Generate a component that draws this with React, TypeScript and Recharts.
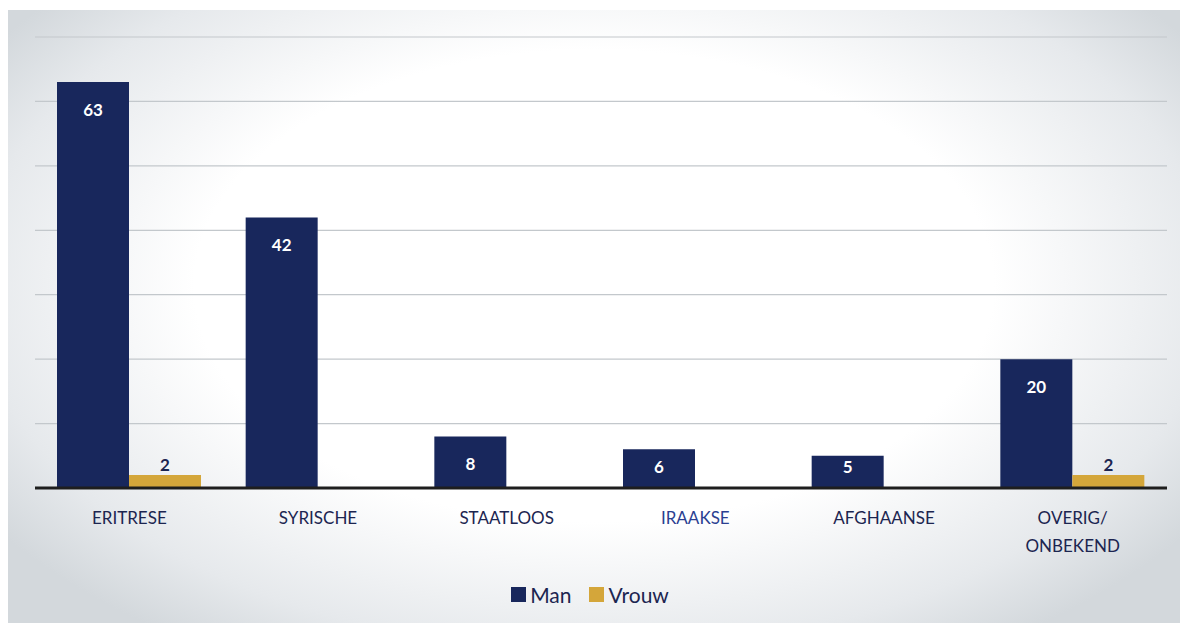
import { Bar, BarChart, CartesianGrid, LabelList, Legend, XAxis, YAxis } from "recharts";

// ── data ────────────────────────────────────────────────────────────────────

const categories = ["ERITRESE", "SYRISCHE", "STAATLOOS", "IRAAKSE", "AFGHAANSE", "OVERIG/\nONBEKEND"];
const man = [63, 42, 8, 6, 5, 20];
const vrouw = [2, 0, 0, 0, 0, 2];
const yTicks = [0, 10, 20, 30, 40, 50, 60, 70];

const NAVY = "#18275c";
const GOLD = "#d4a63a";
const FONT = "Lato, 'Open Sans', sans-serif";

const data = categories.map((name, i) => ({ name, man: man[i], vrouw: vrouw[i] }));

// ── ticks & labels ──────────────────────────────────────────────────────────

interface TickProps {
  x?: number;
  y?: number;
  payload?: { value: string };
}

function CategoryTick({ x = 0, y = 0, payload }: TickProps) {
  const lines = (payload?.value ?? "").split("\n");
  const color = payload?.value === "IRAAKSE" ? "#2b3f91" : "#1c2550";
  return (
    <text x={x} y={y + 28} textAnchor="middle" fill={color} fontSize={17} fontFamily={FONT}>
      {lines.map((l, i) => (
        <tspan key={i} x={x} dy={i === 0 ? 0 : 28}>
          {l}
        </tspan>
      ))}
    </text>
  );
}

// inside-end label, pulled down into short bars like Excel does
interface LabelProps {
  x?: number | string;
  y?: number | string;
  width?: number | string;
  height?: number | string;
  value?: number | string;
}

function ManLabel({ x = 0, y = 0, width = 0, height = 0, value }: LabelProps) {
  const bx = Number(x), by = Number(y), bw = Number(width), bh = Number(height);
  const cy = Math.min(by + 27, by + bh - 22);
  return (
    <text
      x={bx + bw / 2}
      y={cy}
      textAnchor="middle"
      dominantBaseline="central"
      fill="#ffffff"
      fontSize={17}
      fontWeight={700}
      fontFamily={FONT}
    >
      {value}
    </text>
  );
}

function LegendContent() {
  const items = [
    { label: "Man", color: NAVY },
    { label: "Vrouw", color: GOLD },
  ];
  return (
    <div style={{ display: "flex", justifyContent: "center", gap: 18, fontFamily: FONT, fontSize: 21, color: "#1c2550" }}>
      {items.map((it) => (
        <span key={it.label} style={{ display: "flex", alignItems: "center", gap: 4 }}>
          <span style={{ width: 15, height: 15, background: it.color, display: "inline-block" }} />
          {it.label}
        </span>
      ))}
    </div>
  );
}

// ── App ─────────────────────────────────────────────────────────────────────

export default function App() {
  return (
    <div style={{ position: "absolute", left: 0, top: 0, width: 1180, height: 623, background: "#fff" }}>
      <div
        style={{
          position: "absolute",
          left: 8,
          top: 10,
          width: 1172,
          height: 613,
          background: "radial-gradient(ellipse 62% 70% at 50% 45%, #ffffff 55%, #e6e9ec 85%, #d3d8dc 100%)",
        }}
      />
      <div style={{ position: "absolute", left: 0, top: 0 }}>
        <BarChart
          width={1180}
          height={623}
          data={data}
          margin={{ top: 37, right: 13, bottom: 80, left: 35 }}
          barGap={0}
          barCategoryGap={22}
        >
          <CartesianGrid vertical={false} stroke="#c3c8cc" strokeWidth={1.2} />
          <YAxis hide domain={[0, 70]} ticks={yTicks} />
          <XAxis
            dataKey="name"
            axisLine={{ stroke: "#1e1e1e", strokeWidth: 3 }}
            tickLine={false}
            interval={0}
            tick={<CategoryTick />}
          />
          <Bar dataKey="man" name="Man" fill={NAVY} isAnimationActive={false}>
            <LabelList dataKey="man" content={<ManLabel />} />
          </Bar>
          <Bar dataKey="vrouw" name="Vrouw" fill={GOLD} isAnimationActive={false}>
            <LabelList
              dataKey="vrouw"
              position="top"
              offset={4}
              fill="#1c2550"
              fontSize={17}
              fontWeight={700}
              fontFamily={FONT}
              formatter={(v: unknown) => (v ? String(v) : "")}
            />
          </Bar>
          <Legend content={<LegendContent />} wrapperStyle={{ top: 582, left: 0, width: 1180 }} />
        </BarChart>
      </div>
    </div>
  );
}
